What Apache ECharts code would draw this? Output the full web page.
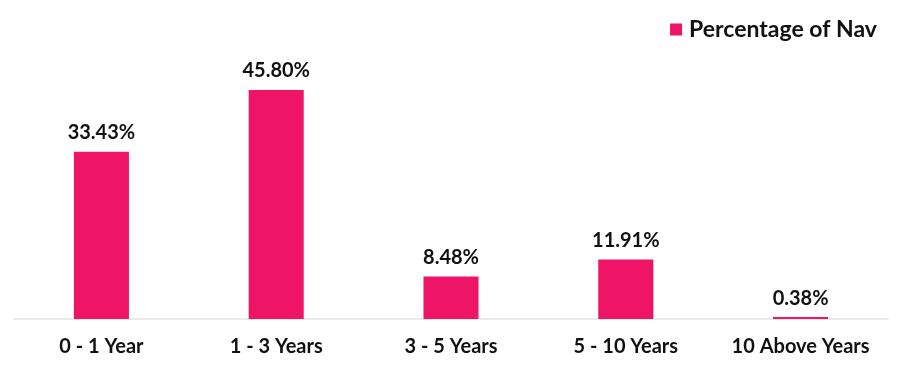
<!DOCTYPE html>
<html><head><meta charset="utf-8">
<script src="https://cdn.jsdelivr.net/npm/echarts@6/dist/echarts.min.js"></script>
<style>html,body{margin:0;padding:0;background:#fff}#c{width:908px;height:374px}</style>
</head><body><div id="c"></div>
<script>
const categories = ["0 - 1 Year", "1 - 3 Years", "3 - 5 Years", "5 - 10 Years", "10 Above Years"];
const percentageOfNav = [33.43, 45.80, 8.48, 11.91, 0.38];
const seriesName = "Percentage of Nav";

const chart = echarts.init(document.getElementById('c'), null, {renderer: 'canvas'});
chart.setOption({
  animation: false,
  legend: {
    right: 31, top: 18, padding: 0,
    itemWidth: 12, itemHeight: 12, itemGap: 8,
    icon: 'rect',
    textStyle: {fontFamily: 'Lato', fontWeight: 'bold', fontSize: 23, color: '#111', padding: [0, 0, 0, 2]},
    data: [seriesName]
  },
  grid: {left: 14, right: 20, top: 69, bottom: 55},
  xAxis: {
    type: 'category', data: categories,
    axisLine: {lineStyle: {color: '#e3e3e3', width: 1.5}},
    axisTick: {show: false},
    axisLabel: {fontFamily: 'Lato', fontWeight: 'bold', fontSize: 20, color: '#111', margin: 18, interval: 0}
  },
  yAxis: {type: 'value', min: 0, max: 50, show: false, splitLine: {show: false}},
  series: [{
    name: seriesName, type: 'bar', data: percentageOfNav, barWidth: '31.5%',
    itemStyle: {color: '#EE1566'},
    label: {show: true, position: 'top', distance: 9, formatter: p => p.value.toFixed(2) + '%',
      fontFamily: 'Lato', fontWeight: 'bold', fontSize: 20, color: '#111'}
  }]
});
</script></body></html>
